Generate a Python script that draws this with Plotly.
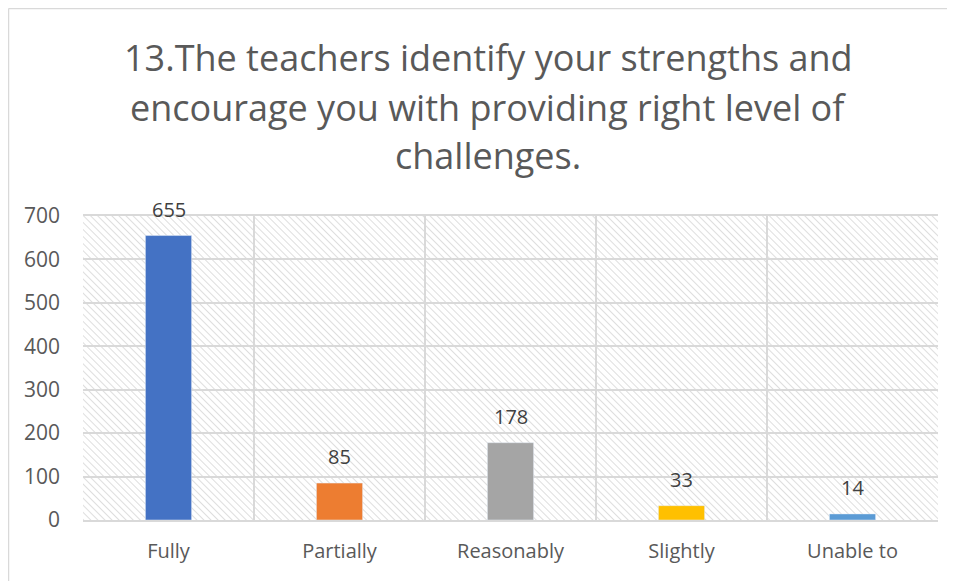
import plotly.graph_objects as go
import base64

categories = ["Fully", "Partially", "Reasonably", "Slightly", "Unable to"]
values = [655, 85, 178, 33, 14]
colors = ["#4472C4", "#ED7D31", "#A5A5A5", "#FFC000", "#5B9BD5"]
y_ticks = [0, 100, 200, 300, 400, 500, 600, 700]
title_lines = ["13.The teachers identify your strengths and",
               "encourage you with providing right level of",
               "challenges."]

W, H = 947, 573
ML, MR, MT, MB = 75, 17, 208, 61
PW, PH = W - ML - MR, H - MT - MB

# hatch background for plot area
svg = ('<svg xmlns="http://www.w3.org/2000/svg" width="%d" height="%d">'
       '<defs><pattern id="h" width="5" height="5" patternUnits="userSpaceOnUse" '
       'patternTransform="rotate(-45)"><line x1="0" y1="0" x2="0" y2="5" '
       'stroke="#DADADA" stroke-width="1.8"/></pattern></defs>'
       '<rect width="%d" height="%d" fill="url(#h)"/></svg>') % (PW, PH, PW, PH)
uri = "data:image/svg+xml;base64," + base64.b64encode(svg.encode()).decode()

def py(fy):
    return 1 + (MT - fy) / PH

def px(fx):
    return (fx - ML) / PW

fig = go.Figure()
fig.add_trace(go.Bar(
    x=categories, y=values, marker_color=colors, width=0.27,
    hoverinfo="skip",
))

annotations = []
for line, fy in zip(title_lines, [49, 99, 147]):
    annotations.append(dict(
        text=line, xref="paper", yref="paper", x=px(480), y=py(fy),
        xanchor="center", yanchor="middle", showarrow=False,
        font=dict(family="Open Sans, Noto Sans, sans-serif", size=36, color="#595959"),
    ))
for c, v in zip(categories, values):
    annotations.append(dict(
        text=str(v), x=c, y=v, xref="x", yref="y", xanchor="center", yanchor="bottom",
        yshift=11, showarrow=False,
        font=dict(family="Open Sans, Noto Sans, sans-serif", size=20, color="#404040"),
    ))

fig.update_layout(
    width=W, height=H,
    margin=dict(l=ML, r=MR, t=MT, b=MB, autoexpand=False),
    paper_bgcolor="white", plot_bgcolor="rgba(0,0,0,0)",
    showlegend=False,
    font=dict(family="Open Sans, Noto Sans, sans-serif", color="#595959"),
    annotations=annotations,
    images=[dict(source=uri, xref="paper", yref="paper", x=0, y=1, sizex=1, sizey=1,
                 sizing="stretch", layer="below", xanchor="left", yanchor="top")],
    shapes=[
        dict(type="line", xref="paper", yref="paper", x0=px(0.5), x1=px(W), y0=py(0.5), y1=py(0.5),
             line=dict(color="#D9D9D9", width=1.5)),
        dict(type="line", xref="paper", yref="paper", x0=px(0.5), x1=px(0.5), y0=py(0.5), y1=py(H),
             line=dict(color="#D9D9D9", width=1.5)),
    ],
)
fig.update_xaxes(
    type="category", tickson="boundaries", showgrid=True, gridcolor="#D9D9D9", gridwidth=2,
    showline=True, linecolor="#D9D9D9", linewidth=2, mirror=True, ticks="",
    tickfont=dict(size=20, color="#595959"), ticklabelstandoff=12, automargin=False,
)
fig.update_yaxes(
    range=[0, 700], tickvals=y_ticks, showgrid=True, gridcolor="#D9D9D9", gridwidth=2,
    showline=False, zeroline=False, ticks="",
    tickfont=dict(size=21, color="#595959"), ticklabelstandoff=22, automargin=False,
)

fig.write_html("out.html")
